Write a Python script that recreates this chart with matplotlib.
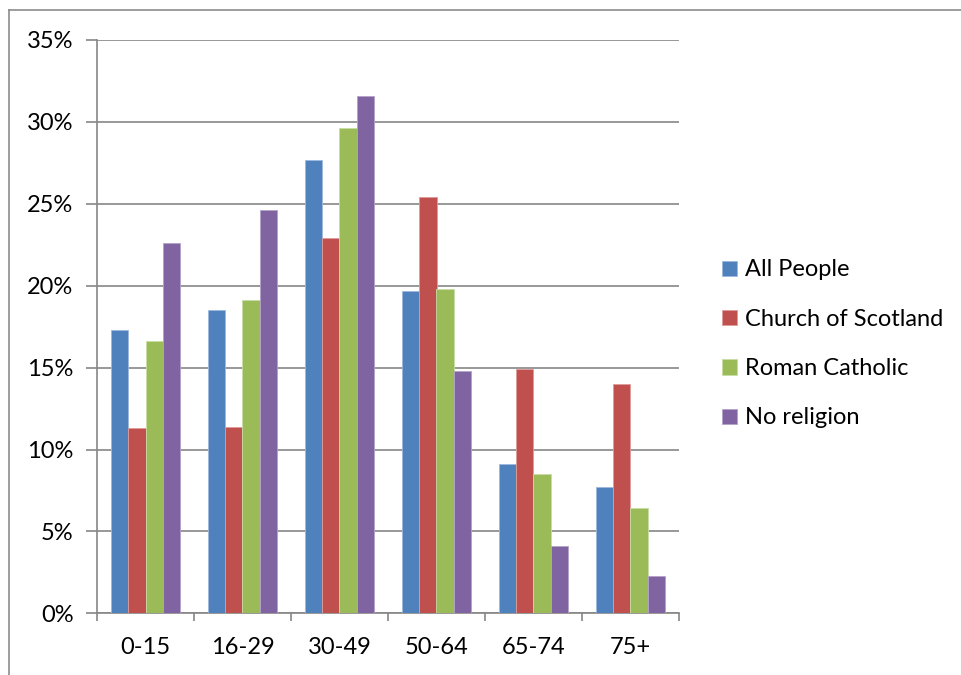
#!/usr/bin/env python3

import numpy as np
import matplotlib.pyplot as plt
import matplotlib.ticker as ticker
from matplotlib.lines import Line2D

# Data
AGE_GROUPS = ["0-15", "16-29", "30-49", "50-64", "65-74", "75+"]
ALL_PEOPLE = [17.3, 18.5, 27.7, 19.7, 9.1, 7.7]
CHURCH_OF_SCOTLAND = [11.3, 11.4, 22.9, 25.4, 14.9, 14.0]
ROMAN_CATHOLIC = [16.6, 19.1, 29.6, 19.8, 8.5, 6.4]
NO_RELIGION = [22.6, 24.6, 31.6, 14.8, 4.1, 2.3]

SERIES = {
    "All People": ALL_PEOPLE,
    "Church of Scotland": CHURCH_OF_SCOTLAND,
    "Roman Catholic": ROMAN_CATHOLIC,
    "No religion": NO_RELIGION,
}
COLORS = ["#4F81BD", "#C0504D", "#9BBB59", "#8064A2"]
EDGES = ["#9DB9DD", "#E09A98", "#C8DCA4", "#B3A2CA"]

GRID = "#868686"
FONT = 17

plt.rcParams["font.family"] = ["Lato", "DejaVu Sans"]

W, H = 962, 675
figure = plt.figure(figsize=(W / 100, H / 100), dpi=100)
axis = figure.add_axes([97 / W, 1 - 613.3 / H, (679 - 97) / W, (613.3 - 40) / H])

x = np.arange(len(AGE_GROUPS))
width = 0.18
for k, ((name, values), c, e) in enumerate(zip(SERIES.items(), COLORS, EDGES)):
    axis.bar(
        x + (k - 1.5) * width,
        values,
        width=width,
        color=c,
        edgecolor=e,
        linewidth=0.6,
        label=name,
        zorder=3,
    )

axis.set_xlim(-0.5, len(AGE_GROUPS) - 0.5)
axis.set_ylim(0, 35)
axis.yaxis.set_major_locator(ticker.MultipleLocator(5))
axis.yaxis.set_major_formatter(ticker.FuncFormatter(lambda y, pos: f"{y:.0f}%"))
axis.grid(axis="y", color=GRID, linewidth=1.2, zorder=0)

# category boundaries as ticks, labels centered in between
axis.set_xticks(np.arange(-0.5, len(AGE_GROUPS)), minor=False)
axis.set_xticklabels([])
axis.set_xticks(x, minor=True)
axis.set_xticklabels(AGE_GROUPS, minor=True)
axis.tick_params(axis="x", which="major", length=6, width=1.2, color=GRID)
axis.tick_params(axis="x", which="minor", length=0, pad=17, labelsize=FONT)
axis.tick_params(axis="y", length=8, width=1.2, color=GRID, pad=9, labelsize=FONT)

for side in ["top", "right"]:
    axis.spines[side].set_visible(False)
for side in ["left", "bottom"]:
    axis.spines[side].set_color(GRID)
    axis.spines[side].set_linewidth(1.2)

legend = figure.legend(
    loc="center left",
    bbox_to_anchor=(701 / W, 1 - 344 / H),
    frameon=False,
    fontsize=FONT,
    handlelength=0.62,
    handleheight=0.62,
    handletextpad=0.35,
    labelspacing=1.2,
)

# chart area border
figure.add_artist(Line2D([9 / W, 9 / W], [0, 1 - 10 / H], color="#8C8C8C", linewidth=1.2))
figure.add_artist(Line2D([9 / W, 1], [1 - 10 / H, 1 - 10 / H], color="#8C8C8C", linewidth=1.2))

plt.savefig("out.png", dpi=100)
